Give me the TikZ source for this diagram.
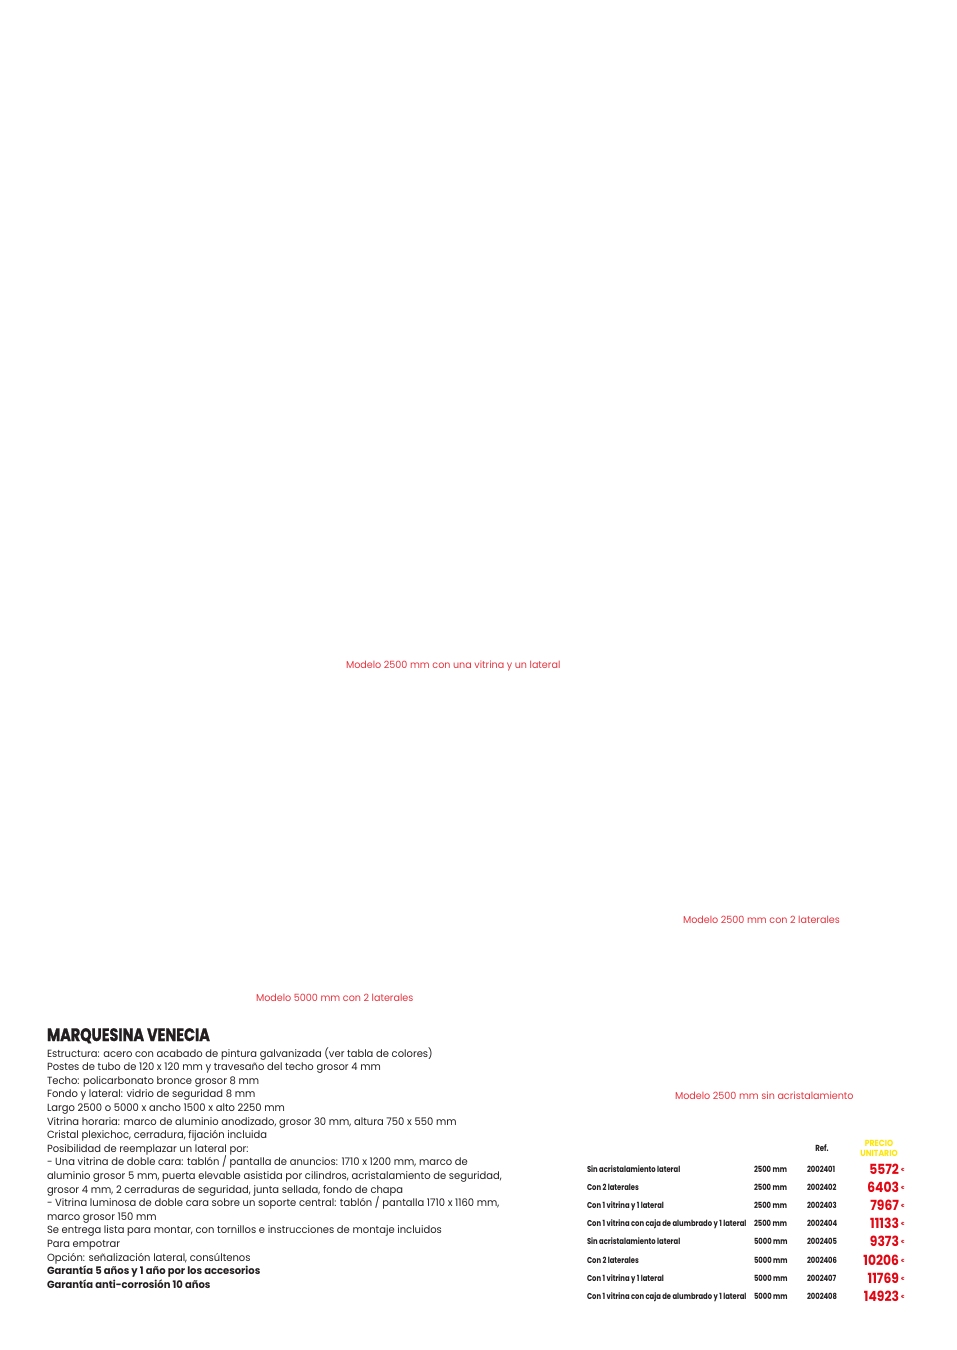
\documentclass[tikz,border=0pt]{standalone}
\usepackage{fontspec}
\setmainfont{Poppins}[FakeStretch=0.96]
\newfontfamily\capfont{Poppins}[FakeStretch=0.96]
\newfontfamily\condfont{Poppins}[FakeStretch=0.80]
\newfontfamily\pricefont{Poppins}[FakeStretch=0.88]
\newfontfamily\titlefont{Poppins}[FakeStretch=0.80,FakeBold=1.2]
\definecolor{capred}{HTML}{E8343F}
\definecolor{pricered}{HTML}{E30613}
\definecolor{hdryellow}{HTML}{FFE600}
\definecolor{ink}{HTML}{231F20}
\begin{document}
\begin{tikzpicture}[x=1pt,y=-1pt,
  every node/.style={inner sep=0pt,outer sep=0pt},
  body/.style={anchor=base west,font=\fontsize{10.4}{12}\selectfont,text=ink},
  bodyb/.style={body,font=\fontsize{10.4}{12}\selectfont\bfseries},
  caption/.style={anchor=base west,font=\capfont\fontsize{10.0}{12}\selectfont,text=capred},
  tlabel/.style={anchor=base west,font=\condfont\bfseries\fontsize{8.5}{10}\selectfont,text=ink},
  thead/.style={anchor=base,font=\pricefont\bfseries\fontsize{8.8}{10}\selectfont},
  tprice/.style={anchor=base east,font=\pricefont\bfseries\fontsize{14}{16}\selectfont,text=pricered},
  teuro/.style={anchor=base west,font=\bfseries\fontsize{4.5}{5}\selectfont,text=pricered}]
\fill[white] (0,0) rectangle (957,1350);
\useasboundingbox (0,0) rectangle (957,1350);

% captions
\node[caption] (c1) at (346,668) {Modelo 2500 mm con una vitrina y un lateral};
\node[caption] (c2) at (683,923) {Modelo 2500 mm con 2 laterales};
\node[caption] (c3) at (256,1001) {Modelo 5000 mm con 2 laterales};
\node[caption] (c4) at (675,1099) {Modelo 2500 mm sin acristalamiento};

% title
\node[anchor=base west,font=\titlefont\bfseries\fontsize{18}{20}\selectfont,text=ink] (title) at (47,1041) {MARQUESINA VENECIA};

% body
\node[body] (l1) at (47,1057) {Estructura: acero con acabado de pintura galvanizada (ver tabla de colores)};
\node[body] (l2) at (47,1070.6) {Postes de tubo de 120 x 120 mm y travesaño del techo grosor 4 mm};
\node[body] (l3) at (47,1084.2) {Techo: policarbonato bronce grosor 8 mm};
\node[body] (l4) at (47,1097.8) {Fondo y lateral: vidrio de seguridad 8 mm};
\node[body] (l5) at (47,1111.4) {Largo 2500 o 5000 x ancho 1500 x alto 2250 mm};
\node[body] (l6) at (47,1125.0) {Vitrina horaria: marco de aluminio anodizado, grosor 30 mm, altura 750 x 550 mm};
\node[body] (l7) at (47,1138.6) {Cristal plexichoc, cerradura, fijación incluida};
\node[body] (l8) at (47,1152.2) {Posibilidad de reemplazar un lateral por:};
\node[body] (l9) at (47,1165.8) {- Una vitrina de doble cara: tablón / pantalla de anuncios: 1710 x 1200 mm, marco de};
\node[body] (l10) at (47,1179.4) {aluminio grosor 5 mm, puerta elevable asistida por cilindros, acristalamiento de seguridad,};
\node[body] (l11) at (47,1193.0) {grosor 4 mm, 2 cerraduras de seguridad, junta sellada, fondo de chapa};
\node[body] (l12) at (47,1206.6) {- Vitrina luminosa de doble cara sobre un soporte central: tablón / pantalla 1710 x 1160 mm,};
\node[body] (l13) at (47,1220.2) {marco grosor 150 mm};
\node[body] (l14) at (47,1233.8) {Se entrega lista para montar, con tornillos e instrucciones de montaje incluidos};
\node[body] (l15) at (47,1247.4) {Para empotrar};
\node[body] (l16) at (47,1261.0) {Opción: señalización lateral, consúltenos};
\node[bodyb] (l17) at (47,1274.6) {Garantía 5 años y 1 año por los accesorios};
\node[bodyb] (l18) at (47,1288.2) {Garantía anti-corrosión 10 años};

% table header
\node[thead,font=\condfont\bfseries\fontsize{8.8}{10}\selectfont,text=ink] (href) at (822,1151.5) {Ref.};
\node[thead,text=hdryellow] (hp1) at (879,1146.5) {PRECIO};
\node[thead,text=hdryellow] (hp2) at (879,1156.5) {UNITARIO};

% table rows
\node[tlabel] (r1a) at (587,1172) {Sin acristalamiento lateral};
\node[tlabel] (r1b) at (754,1172) {2500 mm};
\node[tlabel] (r1c) at (807,1172) {2002401};
\node[tprice] (r1d) at (899,1174) {5572};
\node[teuro] (r1e) at (901,1171) {€};

\node[tlabel] (r2a) at (587,1190) {Con 2 laterales};
\node[tlabel] (r2b) at (754,1190) {2500 mm};
\node[tlabel] (r2c) at (807,1190) {2002402};
\node[tprice] (r2d) at (899,1192) {6403};
\node[teuro] (r2e) at (901,1189) {€};

\node[tlabel] (r3a) at (587,1208) {Con 1 vitrina y 1 lateral};
\node[tlabel] (r3b) at (754,1208) {2500 mm};
\node[tlabel] (r3c) at (807,1208) {2002403};
\node[tprice] (r3d) at (899,1210) {7967};
\node[teuro] (r3e) at (901,1207) {€};

\node[tlabel] (r4a) at (587,1226) {Con 1 vitrina con caja de alumbrado y 1 lateral};
\node[tlabel] (r4b) at (754,1226) {2500 mm};
\node[tlabel] (r4c) at (807,1226) {2002404};
\node[tprice] (r4d) at (899,1228) {11133};
\node[teuro] (r4e) at (901,1225) {€};

\node[tlabel] (r5a) at (587,1244.5) {Sin acristalamiento lateral};
\node[tlabel] (r5b) at (754,1244.5) {5000 mm};
\node[tlabel] (r5c) at (807,1244.5) {2002405};
\node[tprice] (r5d) at (899,1246.5) {9373};
\node[teuro] (r5e) at (901,1243.5) {€};

\node[tlabel] (r6a) at (587,1263) {Con 2 laterales};
\node[tlabel] (r6b) at (754,1263) {5000 mm};
\node[tlabel] (r6c) at (807,1263) {2002406};
\node[tprice] (r6d) at (899,1265) {10206};
\node[teuro] (r6e) at (901,1262) {€};

\node[tlabel] (r7a) at (587,1281) {Con 1 vitrina y 1 lateral};
\node[tlabel] (r7b) at (754,1281) {5000 mm};
\node[tlabel] (r7c) at (807,1281) {2002407};
\node[tprice] (r7d) at (899,1283) {11769};
\node[teuro] (r7e) at (901,1280) {€};

\node[tlabel] (r8a) at (587,1299) {Con 1 vitrina con caja de alumbrado y 1 lateral};
\node[tlabel] (r8b) at (754,1299) {5000 mm};
\node[tlabel] (r8c) at (807,1299) {2002408};
\node[tprice] (r8d) at (899,1301) {14923};
\node[teuro] (r8e) at (901,1298) {€};
\end{tikzpicture}
\end{document}
